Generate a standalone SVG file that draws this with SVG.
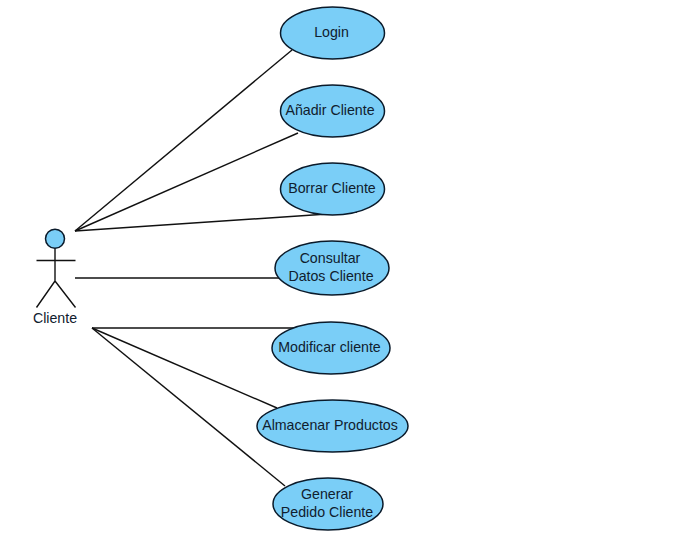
<svg xmlns="http://www.w3.org/2000/svg" width="675" height="544" viewBox="0 0 675 544">
<style>
.bg{fill:#fff}
.uc{fill:#7acef7;stroke:#0a1a2a;stroke-width:1.5}
.ln{fill:none;stroke:#111;stroke-width:1.4}
text{font-family:"Liberation Sans",Arial,sans-serif;font-size:14.200px;fill:#10202e;text-anchor:middle}
</style>
<rect class="bg" width="675" height="544"/>
<g id="connectors">
<path class="ln" d="M75 231L292 50"/>
<path class="ln" d="M75 231L298 133"/>
<path class="ln" d="M75 231L357 212"/>
<path class="ln" d="M75 278L281 278"/>
<path class="ln" d="M92 328L298 328"/>
<path class="ln" d="M92 328L277 408"/>
<path class="ln" d="M92 328L285 486"/>
</g>
<g id="actor-cliente">
<circle cx="55" cy="238.700" r="9.500" class="uc"/>
<path class="ln" d="M55 248.500V281M36.500 260.500H75.500M36.500 307.500L55 281L75.500 307.500"/>
<text x="55" y="322.500">Cliente</text>
</g>
<g id="uc-login"><ellipse cx="332.500" cy="33" rx="52" ry="26" class="uc"/><text x="331.500" y="37">Login</text></g>
<g id="uc-anadir"><ellipse cx="332.500" cy="111" rx="52" ry="26" class="uc"/><text x="330" y="115">Añadir Cliente</text></g>
<g id="uc-borrar"><ellipse cx="332.500" cy="189" rx="52" ry="26" class="uc"/><text x="332" y="193">Borrar Cliente</text></g>
<g id="uc-consultar"><ellipse cx="332" cy="268" rx="57" ry="27" class="uc"/><text x="330" y="263">Consultar</text><text x="331" y="281">Datos Cliente</text></g>
<g id="uc-modificar"><ellipse cx="331" cy="348" rx="59" ry="26" class="uc"/><text x="329.500" y="351.500">Modificar cliente</text></g>
<g id="uc-almacenar"><ellipse cx="332.500" cy="426" rx="75.500" ry="26" class="uc"/><text x="330" y="430">Almacenar Productos</text></g>
<g id="uc-generar"><ellipse cx="328" cy="504" rx="55" ry="26" class="uc"/><text x="327" y="499">Generar</text><text x="327" y="517">Pedido Cliente</text></g>
</svg>
